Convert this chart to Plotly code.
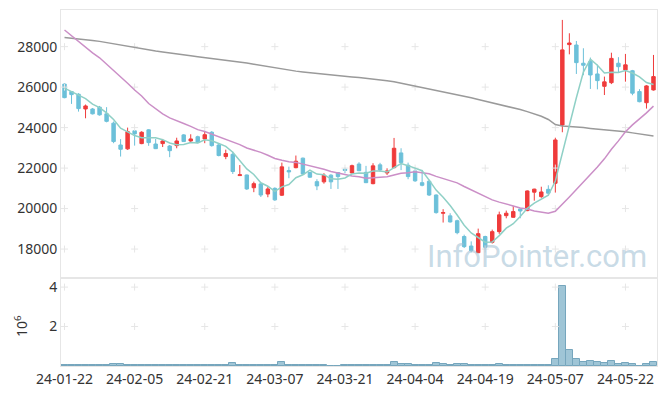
import plotly.graph_objects as go

dates = [
    "24-01-22", "24-01-23", "24-01-24", "24-01-25", "24-01-26", "24-01-29", "24-01-30", "24-01-31",
    "24-02-01", "24-02-02", "24-02-05", "24-02-06", "24-02-07", "24-02-08", "24-02-13", "24-02-14",
    "24-02-15", "24-02-16", "24-02-19", "24-02-20", "24-02-21", "24-02-22", "24-02-23", "24-02-26",
    "24-02-27", "24-02-28", "24-02-29", "24-03-04", "24-03-05", "24-03-06", "24-03-07", "24-03-08",
    "24-03-11", "24-03-12", "24-03-13", "24-03-14", "24-03-15", "24-03-18", "24-03-19", "24-03-20",
    "24-03-21", "24-03-22", "24-03-25", "24-03-26", "24-03-27", "24-03-28", "24-03-29", "24-04-01",
    "24-04-02", "24-04-03", "24-04-04", "24-04-05", "24-04-08", "24-04-09", "24-04-11", "24-04-12",
    "24-04-15", "24-04-16", "24-04-17", "24-04-18", "24-04-19", "24-04-22", "24-04-23", "24-04-24",
    "24-04-25", "24-04-26", "24-04-29", "24-04-30", "24-05-02", "24-05-03", "24-05-07", "24-05-08",
    "24-05-09", "24-05-10", "24-05-13", "24-05-14", "24-05-16", "24-05-17", "24-05-20", "24-05-21",
    "24-05-22", "24-05-23", "24-05-24", "24-05-27", "24-05-28",
]

open_ = [
    26150, 25780, 25650, 24920, 24920, 25010, 24680, 24220, 23140, 22950,
    23840, 23210, 23890, 23190, 23210, 23090, 23110, 23640, 23340, 23550,
    23440, 23770, 23140, 22570, 22680, 21630, 21660, 21030, 21220, 20720,
    21000, 20660, 21880, 22020, 22490, 21780, 21330, 21320, 21650, 21780,
    21950, 21760, 22200, 21790, 21230, 22160, 21760, 22020, 22750, 22140,
    21860, 21280, 21350, 20670, 19770, 19640, 19400, 18620, 18150, 17820,
    18620, 18330, 18860, 19650, 19570, 19980, 19900, 20810, 20590, 20950,
    21250, 24130, 28100, 28080, 27180, 27260, 26650, 26040, 26220, 27180,
    26850, 26810, 25780, 25230, 25860,
]
high = [
    26200, 25800, 25700, 25140, 24970, 25070, 25010, 24300, 23430, 24000,
    23850, 23820, 23920, 23440, 23440, 23140, 23500, 23680, 23670, 23600,
    23790, 23830, 23190, 22910, 22810, 22150, 21680, 21330, 21260, 21070,
    21050, 22270, 22070, 22620, 22520, 21800, 21450, 21750, 21700, 21800,
    22030, 22170, 22290, 22110, 22240, 22260, 21990, 23490, 22980, 22270,
    21990, 21910, 21430, 20700, 19970, 19770, 19450, 18710, 18380, 19010,
    18660, 18960, 19850, 19900, 20130, 20000, 20900, 20980, 21080, 21150,
    23500, 29320, 28660, 28280, 27920, 27460, 27110, 26520, 27700, 27480,
    27640, 26850, 25900, 26100, 27590,
]
low = [
    25450, 25170, 24790, 24460, 24650, 24590, 24260, 23230, 22570, 22900,
    23110, 23180, 23100, 22940, 23040, 22540, 22980, 23290, 23280, 23230,
    23230, 23060, 22580, 22440, 21710, 21620, 20920, 20810, 20570, 20560,
    20380, 20620, 21500, 21990, 21690, 21520, 20910, 21230, 20970, 20970,
    21750, 21740, 21850, 21260, 21200, 21810, 21660, 21990, 21900, 21450,
    21320, 21100, 20620, 19750, 19310, 19310, 18730, 18050, 17840, 17800,
    17970, 18270, 18750, 19520, 19550, 19520, 19870, 20390, 20530, 20650,
    20790, 23770, 27620, 26650, 26590, 25910, 25890, 25610, 26150, 26730,
    26270, 25600, 25250, 24940, 25830,
]
close = [
    25480, 25630, 24940, 25070, 24680, 24630, 24310, 23310, 22930, 23800,
    23690, 23770, 23260, 22960, 23340, 22860, 23340, 23310, 23440, 23260,
    23650, 23110, 22620, 22720, 21830, 21670, 20970, 21230, 20670, 20970,
    20430, 22060, 21810, 22340, 21710, 21550, 21120, 21650, 21320, 21580,
    21880, 22120, 21870, 21280, 22110, 21910, 21860, 22980, 22270, 21580,
    21370, 21150, 20670, 19800, 19800, 19340, 18810, 18120, 17920, 18760,
    18090, 18860, 19690, 19770, 19850, 19880, 20870, 20960, 20820, 20760,
    23390, 27840, 28180, 27210, 27080, 26600, 26320, 26260, 27420, 27010,
    27100, 25700, 25280, 26060, 26520,
]
volume = [
    35000, 35000, 35000, 35000, 35000, 35000, 35000, 85000, 85000, 35000,
    35000, 35000, 35000, 70000, 35000, 70000, 35000, 35000, 35000, 35000,
    35000, 35000, 70000, 35000, 140000, 35000, 70000, 35000, 70000, 35000,
    35000, 190000, 35000, 70000, 35000, 35000, 35000, 35000, 3000, 3000,
    35000, 35000, 35000, 35000, 70000, 35000, 35000, 220000, 90000, 90000,
    35000, 35000, 35000, 170000, 80000, 35000, 80000, 80000, 35000, 70000,
    35000, 35000, 80000, 35000, 35000, 35000, 70000, 35000, 35000, 35000,
    370000, 4050000, 800000, 380000, 190000, 230000, 190000, 140000, 270000, 90000,
    170000, 80000, 20000, 90000, 180000,
]
ma5 = [
    25950, 25780, 25600, 25430, 25160, 24990, 24726, 24400, 23972, 23796,
    23608, 23500, 23490, 23496, 23404, 23238, 23152, 23162, 23258, 23242,
    23400, 23354, 23216, 23072, 22786, 22390, 21962, 21684, 21274, 21102,
    20854, 21072, 21188, 21522, 21670, 21894, 21706, 21674, 21470, 21444,
    21510, 21710, 21754, 21746, 21852, 21858, 21806, 22028, 22226, 22120,
    22012, 21870, 21408, 20914, 20558, 20152, 19684, 19174, 18798, 18590,
    18340, 18350, 18664, 19034, 19252, 19610, 20012, 20266, 20476, 20658,
    21360, 22754, 24198, 25476, 26740, 27382, 27078, 26694, 26736, 26722,
    26822, 26698, 26502, 26230, 26132,
]
ma20 = [
    28820, 28530, 28260, 27970, 27690, 27450, 27140, 26850, 26530, 26190,
    25860, 25560, 25190, 24920, 24680, 24480, 24320, 24200, 24060, 23900,
    23809, 23683, 23567, 23450, 23307, 23159, 22992, 22888, 22775, 22634,
    22471, 22385, 22313, 22282, 22200, 22135, 22024, 21941, 21835, 21751,
    21662, 21613, 21575, 21503, 21517, 21529, 21574, 21661, 21741, 21772,
    21819, 21773, 21716, 21589, 21494, 21383, 21268, 21091, 20921, 20780,
    20591, 20428, 20319, 20243, 20130, 20029, 19979, 19878, 19806, 19765,
    19866, 20200, 20576, 20946, 21310, 21673, 22049, 22456, 22931, 23343,
    23794, 24136, 24415, 24730, 25063,
]
ma120 = [
    28450, 28420, 28390, 28350, 28300, 28260, 28200, 28130, 28060, 28000,
    27940, 27890, 27840, 27790, 27740, 27700, 27650, 27600, 27550, 27500,
    27460, 27420, 27370, 27330, 27280, 27240, 27190, 27130, 27070, 27000,
    26940, 26890, 26840, 26790, 26750, 26710, 26670, 26630, 26600, 26560,
    26530, 26500, 26470, 26440, 26400, 26370, 26320, 26270, 26200, 26130,
    26050, 25980, 25910, 25850, 25780, 25710, 25630, 25550, 25470, 25390,
    25310, 25230, 25150, 25060, 24980, 24890, 24790, 24680, 24560, 24400,
    24150, 24080, 24060, 24030, 24000, 23960, 23930, 23900, 23870, 23830,
    23790, 23740, 23690, 23640, 23590,
]

x_tick_labels = ["24-01-22", "24-02-05", "24-02-21", "24-03-07", "24-03-21",
                 "24-04-04", "24-04-19", "24-05-07", "24-05-22"]
price_ticks = [18000, 20000, 22000, 24000, 26000, 28000]
vol_ticks = [2000000, 4000000]
vol_tick_text = ["2", "4"]

RED = "#ef3b3b"
BLUE = "#6cc0d9"
FONT = "Noto Sans"
TXT = "#333333"

fig = go.Figure()

cross = dict(symbol="cross-thin", size=5, line=dict(color="#e6e6e6", width=1))
cx, cy = [], []
for d in x_tick_labels:
    for p in price_ticks:
        cx.append(d)
        cy.append(p)
fig.add_trace(go.Scatter(x=cx, y=cy, mode="markers", xaxis="x", yaxis="y",
                         marker=cross, hoverinfo="skip", showlegend=False))
vx, vy = [], []
for d in x_tick_labels:
    for v in vol_ticks:
        vx.append(d)
        vy.append(v)
fig.add_trace(go.Scatter(x=vx, y=vy, mode="markers", xaxis="x2", yaxis="y2",
                         marker=cross, hoverinfo="skip", showlegend=False))

fig.add_trace(go.Scatter(x=dates, y=ma120, mode="lines", xaxis="x", yaxis="y",
                         line=dict(color="#9a9a9a", width=1.5), showlegend=False))
fig.add_trace(go.Scatter(x=dates, y=ma20, mode="lines", xaxis="x", yaxis="y",
                         line=dict(color="#cb8fc7", width=1.5), showlegend=False))
fig.add_trace(go.Candlestick(
    x=dates, open=open_, high=high, low=low, close=close,
    xaxis="x", yaxis="y",
    increasing=dict(line=dict(color=RED, width=1), fillcolor=RED),
    decreasing=dict(line=dict(color=BLUE, width=1), fillcolor=BLUE),
    whiskerwidth=0, showlegend=False))
fig.add_trace(go.Scatter(x=dates, y=ma5, mode="lines", xaxis="x", yaxis="y",
                         line=dict(color="#8fd0c6", width=1.5), showlegend=False))

fig.add_trace(go.Bar(x=dates, y=volume, xaxis="x2", yaxis="y2",
                     marker=dict(color="#9fc5d6", line=dict(color="#76a6bd", width=1)),
                     width=1.0, showlegend=False))

split = (366 - 278) / 356

fig.update_layout(
    width=665, height=396,
    margin=dict(l=61, r=8, t=10, b=30, autoexpand=False),
    paper_bgcolor="white", plot_bgcolor="white",
    font=dict(family=FONT, color=TXT, size=13),
    showlegend=False,
    xaxis=dict(type="category", domain=[0, 1], anchor="y", range=[-0.5, 84.5],
               autorange=False, automargin=False,
               showticklabels=False, showgrid=False, rangeslider=dict(visible=False),
               showline=True, linecolor="#e6e6e6", mirror=True, ticks="",
               categoryorder="array", categoryarray=dates),
    yaxis=dict(domain=[split, 1], anchor="x", range=[16570, 29810], automargin=False,
               tickvals=price_ticks, ticktext=[str(t) for t in price_ticks],
               showgrid=False, zeroline=False, showline=True, linecolor="#e6e6e6",
               mirror=True, ticks="", tickfont=dict(size=14, color=TXT)),
    xaxis2=dict(type="category", domain=[0, 1], anchor="y2", range=[-0.5, 84.5],
                autorange=False, automargin=False,
                tickvals=x_tick_labels, ticktext=x_tick_labels,
                showgrid=False, showline=True, linecolor="#e6e6e6", mirror=True,
                ticks="", tickfont=dict(size=14, color=TXT),
                categoryorder="array", categoryarray=dates),
    yaxis2=dict(domain=[0, split], anchor="x2", range=[0, 4460000], automargin=False,
                tickvals=vol_ticks, ticktext=vol_tick_text,
                showgrid=False, zeroline=False, showline=True, linecolor="#e6e6e6",
                mirror=True, ticks="", tickfont=dict(size=14, color=TXT)),
    bargap=0,
    annotations=[
        dict(text="InfoPointer.com", xref="paper", yref="paper",
             x=0.987, y=(366 - 256) / 356, xanchor="right", yanchor="middle",
             showarrow=False,
             font=dict(family="Roboto", size=31, color="rgba(160,192,212,0.58)")),
        dict(text="10<sup>6</sup>", xref="paper", yref="paper",
             x=-40 / 596, y=(366 - 326) / 356, xanchor="center", yanchor="middle",
             textangle=-90, showarrow=False, font=dict(family=FONT, size=14, color=TXT)),
    ],
)

fig.write_html("out.html", config={"displayModeBar": False},
               post_script="document.body.style.margin='0';document.body.style.padding='0';")
